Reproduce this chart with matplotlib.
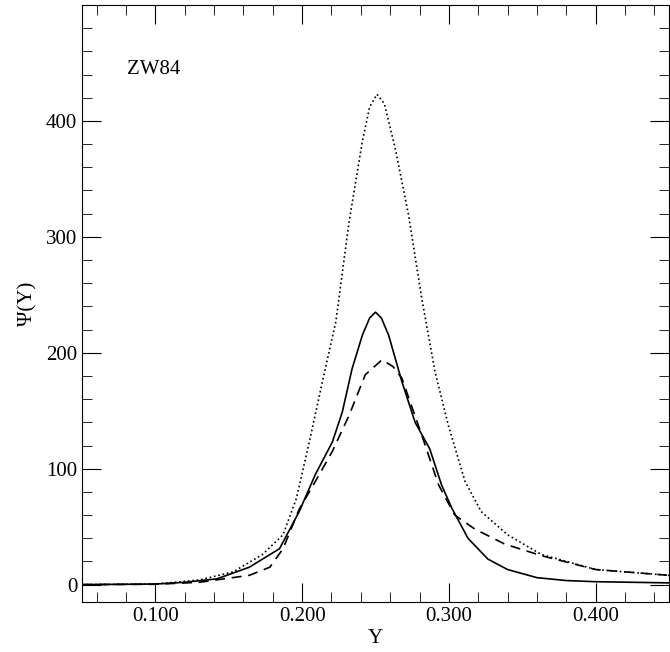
import matplotlib
matplotlib.use("Agg")
import matplotlib.pyplot as plt
from matplotlib.ticker import MultipleLocator, FormatStrFormatter, FixedLocator

plt.rcParams['font.family'] = ['Liberation Serif', 'DejaVu Serif']

x_solid = [0.05,0.10,0.12,0.142,0.164,0.1846,0.198,0.209,0.2206,0.2274,0.234,0.241,0.246,0.250,0.254,0.259,0.268,0.277,0.287,0.295,0.302,0.313,0.3266,0.340,0.36,0.38,0.40,0.45]
y_solid = [0,0.5,2,5,15,31,63,95,123,149,186,215,230,235,230,215,175,140,117,86,66,40,22,13,6,3.5,2.5,1.5]

x_dot = [0.05,0.10,0.130,0.153,0.173,0.187,0.196,0.2049,0.2138,0.223,0.232,0.241,0.246,0.251,0.256,0.2635,0.2725,0.2815,0.2905,0.2995,0.311,0.322,0.340,0.363,0.40,0.45]
y_dot = [0,0.5,4,11,26,43,74,123,175,227,313,382,412,423,415,376,319,247,184,138,89,63,43,26,13,8]

x_dash = [0.05,0.10,0.13,0.164,0.178,0.187,0.198,0.209,0.2206,0.232,0.243,0.2545,0.262,0.268,0.2815,0.293,0.304,0.3176,0.338,0.363,0.40,0.45]
y_dash = [0,0.3,2,8,15,31,65,89,115,146,181,194,188,178,129,86,60,48,35,25,13,8]

fig = plt.figure(figsize=(6.70, 6.52), dpi=100)
ax = fig.add_axes([82/670, 50/652, 587/670, 597/652])
ax.plot(x_dot, y_dot, 'k:', lw=1.2)
ax.plot(x_dash, y_dash, 'k--', lw=1.2, dashes=(6, 4))
ax.plot(x_solid, y_solid, 'k-', lw=1.2)
ax.set_xlim(0.05, 0.45)
ax.set_ylim(-15, 500)
ax.xaxis.set_major_locator(MultipleLocator(0.1))
ax.xaxis.set_minor_locator(MultipleLocator(0.02))
ax.xaxis.set_major_formatter(FormatStrFormatter('%.3f'))
ax.yaxis.set_major_locator(FixedLocator([0, 100, 200, 300, 400]))
ax.yaxis.set_minor_locator(MultipleLocator(20))
ax.tick_params(which='both', direction='in', top=True, right=True, labelsize=15)
ax.tick_params(which='major', length=14)
ax.tick_params(which='minor', length=7)
ax.set_xlabel('Y', fontsize=15, labelpad=2)
ax.set_ylabel('Ψ(Y)', fontsize=15, labelpad=6)
ax.text(0.077, 0.885, 'ZW84', transform=ax.transAxes, fontsize=15)
fig.savefig('out.png', dpi=100)
